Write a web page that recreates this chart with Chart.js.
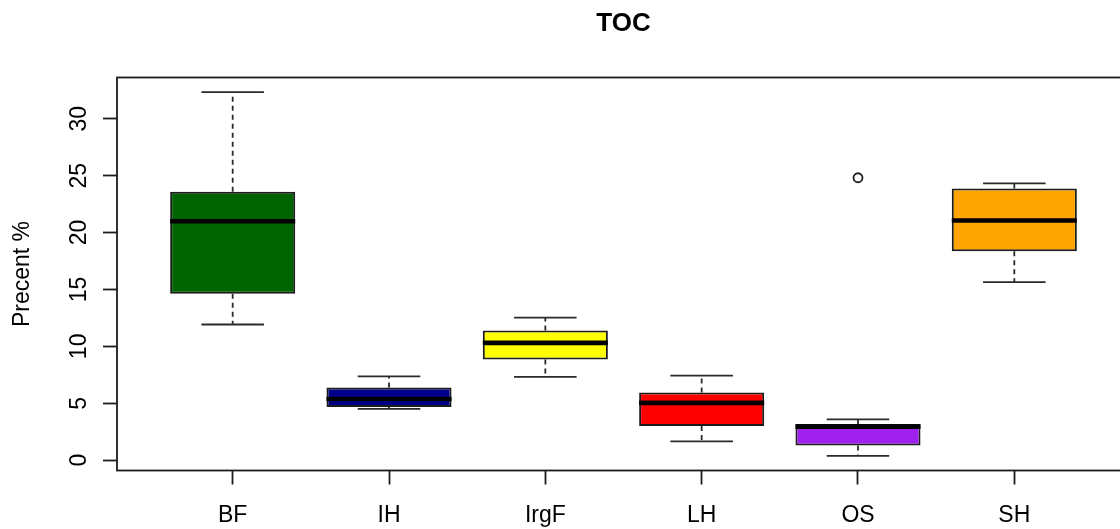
<!DOCTYPE html>
<html>
<head>
<meta charset="utf-8">
<title>TOC</title>
<script src="https://cdn.jsdelivr.net/npm/chart.js@4/dist/chart.umd.min.js"></script>
<style>
  html, body { margin: 0; padding: 0; background: #ffffff; overflow: hidden; }
  #chart { display: block; }
</style>
</head>
<body>
<canvas id="chart" width="1140" height="529"></canvas>
<script>
// Box-plot summaries of total organic carbon per group
const categories  = ['BF', 'IH', 'IrgF', 'LH', 'OS', 'SH'];
const whiskerLow  = [11.92, 4.50, 7.32, 1.65, 0.37, 15.64];
const q1          = [14.62, 4.68, 8.84, 3.00, 1.28, 18.36];
const median      = [21.00, 5.38, 10.31, 5.03, 2.95, 21.06];
const q3          = [23.59, 6.38, 11.39, 5.94, 3.18, 23.88];
const whiskerHigh = [32.35, 7.37, 12.53, 7.43, 3.59, 24.32];
const outlierGroups = ['OS'];
const outlierValues = [24.82];
const boxColors = ['#006400', '#00008B', '#FFFF00', '#FF0000', '#A020F0', '#FFA500'];
const yTickValues = [0, 5, 10, 15, 20, 25, 30];

const titleText = 'TOC';
const yAxisTitle = 'Precent %';

const FONT = "'Liberation Sans', Arial, Helvetica, sans-serif";
const INK = '#1c1c1c';

// axis ranges padded by 4% like base graphics
const allValues = whiskerLow.concat(whiskerHigh, outlierValues);
const vLo = Math.min(...allValues), vHi = Math.max(...allValues);
const vPad = (vHi - vLo) * 0.04;
const xLo = 0.5, xHi = categories.length + 0.5;
const xPad = (xHi - xLo) * 0.04;

const BOX_HALF = 0.4;     // half box width in category units
const CAP_HALF = 0.2;     // half whisker-cap width

const boxPlotPlugin = {
  id: 'boxPlotParts',
  beforeDatasetsDraw(chart) {
    const { ctx, scales: { x, y } } = chart;
    ctx.save();
    ctx.strokeStyle = '#2a2a2a';
    ctx.lineWidth = 1.8;
    categories.forEach((c, i) => {
      const cx = x.getPixelForValue(i + 1);
      // dashed whiskers
      ctx.setLineDash([5, 4]);
      ctx.beginPath();
      ctx.moveTo(cx, y.getPixelForValue(q3[i]));
      ctx.lineTo(cx, y.getPixelForValue(whiskerHigh[i]));
      ctx.moveTo(cx, y.getPixelForValue(q1[i]));
      ctx.lineTo(cx, y.getPixelForValue(whiskerLow[i]));
      ctx.stroke();
      // whisker caps
      ctx.setLineDash([]);
      const l = x.getPixelForValue(i + 1 - CAP_HALF);
      const r = x.getPixelForValue(i + 1 + CAP_HALF);
      ctx.beginPath();
      const yh = y.getPixelForValue(whiskerHigh[i]);
      const yl = y.getPixelForValue(whiskerLow[i]);
      ctx.moveTo(l, yh); ctx.lineTo(r, yh);
      ctx.moveTo(l, yl); ctx.lineTo(r, yl);
      ctx.stroke();
    });
    ctx.restore();
  },
  afterDatasetsDraw(chart) {
    const { ctx, scales: { x, y } } = chart;
    ctx.save();
    ctx.strokeStyle = '#000000';
    ctx.lineWidth = 4.6;
    ctx.lineCap = 'butt';
    categories.forEach((c, i) => {
      const l = x.getPixelForValue(i + 1 - BOX_HALF);
      const r = x.getPixelForValue(i + 1 + BOX_HALF);
      const ym = y.getPixelForValue(median[i]);
      ctx.beginPath();
      ctx.moveTo(l, ym); ctx.lineTo(r, ym);
      ctx.stroke();
    });
    ctx.restore();
  },
  afterDraw(chart) {
    const { ctx, chartArea: a, scales: { x, y } } = chart;
    ctx.save();
    // plot frame
    ctx.strokeStyle = INK;
    ctx.lineWidth = 1.8;
    ctx.strokeRect(a.left, a.top, a.right - a.left, a.bottom - a.top);

    ctx.fillStyle = '#000000';
    // category labels under the x ticks
    ctx.font = '23px ' + FONT;
    ctx.textAlign = 'center';
    ctx.textBaseline = 'alphabetic';
    categories.forEach((c, i) => {
      ctx.fillText(c, x.getPixelForValue(i + 1), a.bottom + 51);
    });
    // y tick labels, parallel to the axis
    yTickValues.forEach(v => {
      ctx.save();
      ctx.translate(a.left - 31, y.getPixelForValue(v));
      ctx.rotate(-Math.PI / 2);
      ctx.fillText(String(v), 0, 0);
      ctx.restore();
    });
    // y axis title
    ctx.save();
    ctx.translate(28.5, (a.top + a.bottom) / 2);
    ctx.rotate(-Math.PI / 2);
    ctx.font = '23px ' + FONT;
    ctx.fillText(yAxisTitle, 0, 0);
    ctx.restore();
    // main title
    ctx.font = 'bold 26px ' + FONT;
    ctx.fillText(titleText, (a.left + a.right) / 2, 31);
    ctx.restore();
  }
};

const boxData = categories.map((c, i) => ({ x: i + 1, y: [q1[i], q3[i]] }));
const outlierData = outlierGroups.map((g, k) => ({ x: categories.indexOf(g) + 1, y: outlierValues[k] }));

const tickGrid = {
  display: true,
  offset: false,
  drawOnChartArea: false,
  drawTicks: true,
  tickLength: 14,
  tickWidth: 1.8,
  tickColor: INK
};

new Chart(document.getElementById('chart'), {
  type: 'bar',
  data: {
    datasets: [
      {
        type: 'bar',
        label: 'box',
        data: boxData,
        backgroundColor: boxColors,
        borderColor: INK,
        borderWidth: 2,
        borderSkipped: false,
        categoryPercentage: 1,
        barPercentage: 2 * BOX_HALF,
        grouped: false
      },
      {
        type: 'scatter',
        label: 'outliers',
        data: outlierData,
        pointStyle: 'circle',
        pointRadius: 4.5,
        pointBorderWidth: 1.8,
        pointBorderColor: INK,
        pointBackgroundColor: '#ffffff'
      }
    ]
  },
  options: {
    responsive: false,
    animation: false,
    devicePixelRatio: 1,
    layout: { padding: { top: 77.5, right: 10, left: 0, bottom: 0 } },
    plugins: {
      legend: { display: false },
      title: { display: false },
      tooltip: { enabled: false }
    },
    scales: {
      x: {
        type: 'linear',
        offset: false,
        min: xLo - xPad,
        max: xHi + xPad,
        afterBuildTicks: s => { s.ticks = categories.map((c, i) => ({ value: i + 1 })); },
        afterFit: s => { s.height = 58.5; },
        ticks: { display: false },
        border: { display: false },
        grid: tickGrid
      },
      y: {
        type: 'linear',
        min: vLo - vPad,
        max: vHi + vPad,
        afterBuildTicks: s => { s.ticks = yTickValues.map(v => ({ value: v })); },
        afterFit: s => { s.width = 117; },
        ticks: { display: false },
        border: { display: false },
        grid: tickGrid
      }
    }
  },
  plugins: [boxPlotPlugin]
});
</script>
</body>
</html>
